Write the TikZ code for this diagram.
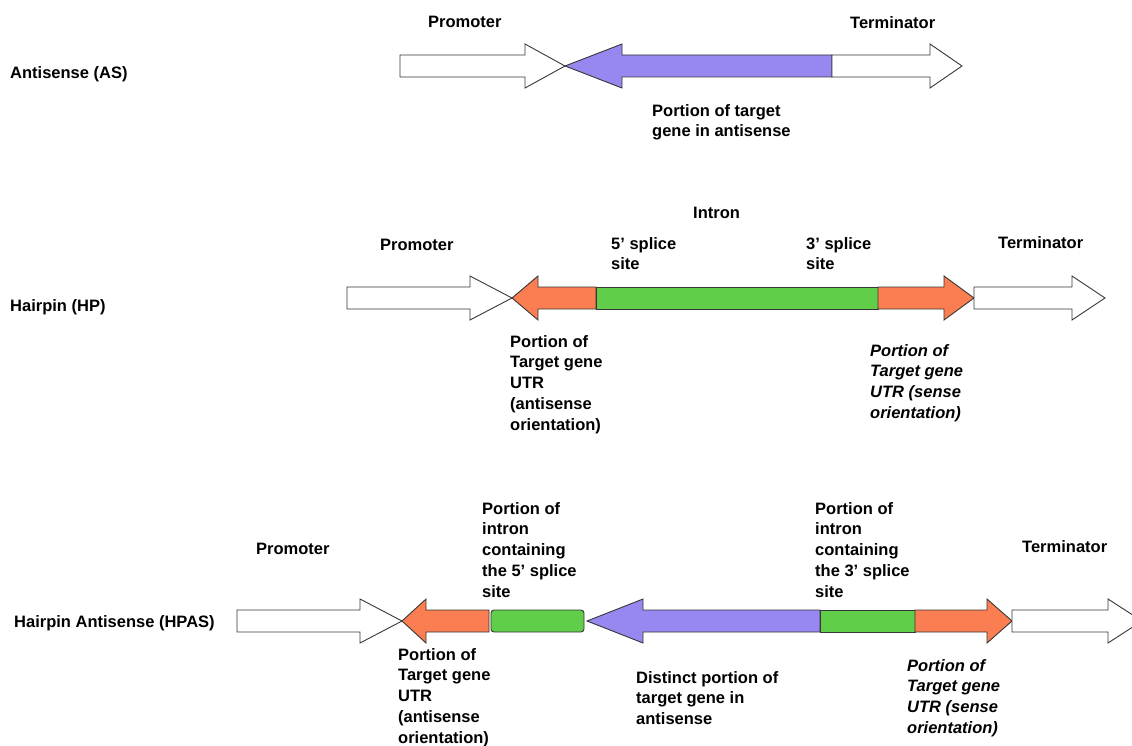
\documentclass[tikz,border=0pt]{standalone}
\usepackage{fontspec}
\setmainfont{Liberation Sans}
\usepackage{tikz}
\usetikzlibrary{positioning, calc}

\definecolor{asblue}{RGB}{150,136,240}
\definecolor{utrorange}{RGB}{250,126,82}
\definecolor{intgreen}{RGB}{96,206,72}
\definecolor{edgegray}{RGB}{55,55,55}

% block arrows: style, start, head base, tip, centre
\newcommand{\rblock}[5]{\draw[#1] (#2,#5-11) -- (#3,#5-11) -- (#3,#5-22) -- (#4,#5) -- (#3,#5+22) -- (#3,#5+11) -- (#2,#5+11) -- cycle;}
\newcommand{\lblock}[5]{\draw[#1] (#4,#5) -- (#3,#5-22) -- (#3,#5-11) -- (#2,#5-11) -- (#2,#5+11) -- (#3,#5+11) -- (#3,#5+22) -- cycle;}

\begin{document}
\begin{tikzpicture}[x=1pt, y=-1pt,
  part/.style={draw=edgegray, line width=0.9pt, line join=miter},
  plain/.style={part, fill=white},
  anti/.style={part, fill=asblue},
  utr/.style={part, fill=utrorange},
  intr/.style={part, fill=intgreen},
  lbl/.style={anchor=north west, inner sep=0pt, align=left, font=\fontsize{16.5}{20.8}\selectfont\bfseries},
  ilbl/.style={lbl, font=\fontsize{16.5}{20.8}\selectfont\bfseries\itshape}]
  \useasboundingbox (0,0) rectangle (1132,746);

  % Antisense
  \rblock{plain}{400}{525}{565}{66}
  \lblock{anti}{832}{622}{565}{66}
  \rblock{plain}{832}{930}{962}{66}
  \node[lbl] (asname) at (10,66) {Antisense (AS)};
  \node[lbl] (asprom) at (428,16) {Promoter};
  \node[lbl] (asterm) at (850,16) {Terminator};
  \node[lbl] (astarget) at (652,104) {Portion of target\\gene in antisense};

  % Hairpin
  \rblock{plain}{347}{470}{512}{298}
  \lblock{utr}{596}{538}{512}{298}
  \draw[intr] (596,287) rectangle (878,309);
  \rblock{utr}{878}{944}{974}{298}
  \rblock{plain}{974}{1072}{1105}{298}
  \node[lbl] (hpname) at (10,299) {Hairpin (HP)};
  \node[lbl] (hpprom) at (380,239) {Promoter};
  \node[lbl] (hpterm) at (998,236) {Terminator};
  \node[lbl] (intron) at (693,207) {Intron};
  \node[lbl] (fivess) at (611,237) {5' splice\\site};
  \node[lbl] (threess) at (806,237) {3' splice\\site};
  \node[lbl] (hputra) at (510,335) {Portion of\\Target gene\\UTR\\(antisense\\orientation)};
  \node[ilbl] (hputrs) at (870,344) {Portion of\\Target gene\\UTR (sense\\orientation)};

  % Hairpin antisense
  \rblock{plain}{237}{360}{402}{621}
  \lblock{utr}{489}{426}{402}{621}
  \draw[intr, rounded corners=3pt] (491,610) rectangle (584,632);
  \lblock{anti}{820}{643}{587}{621}
  \draw[intr] (820,610) rectangle (915,632);
  \rblock{utr}{915}{987}{1012}{621}
  \rblock{plain}{1012}{1108}{1142}{621}
  \node[lbl] (hpasname) at (14,615) {Hairpin Antisense (HPAS)};
  \node[lbl] (hpasprom) at (256,543) {Promoter};
  \node[lbl] (hpasterm) at (1022,540) {Terminator};
  \node[lbl] (fiveint) at (482,502) {Portion of\\intron\\containing\\the 5' splice\\site};
  \node[lbl] (threeint) at (815,502) {Portion of\\intron\\containing\\the 3' splice\\site};
  \node[lbl] (hpasutra) at (398,648) {Portion of\\Target gene\\UTR\\(antisense\\orientation)};
  \node[lbl] (distinct) at (636,671) {Distinct portion of\\target gene in\\antisense};
  \node[ilbl] (hpasutrs) at (907,659) {Portion of\\Target gene\\UTR (sense\\orientation)};
\end{tikzpicture}
\end{document}
